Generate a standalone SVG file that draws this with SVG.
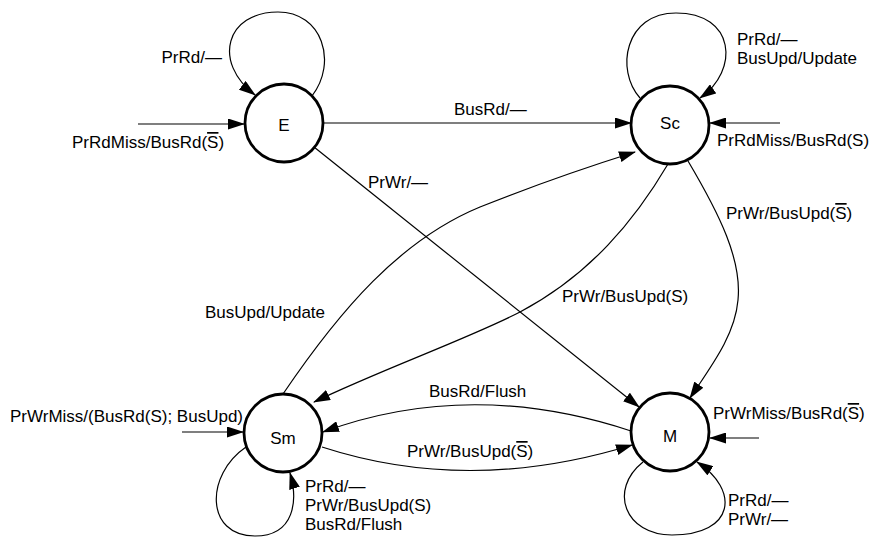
<svg xmlns="http://www.w3.org/2000/svg" width="872" height="544" viewBox="0 0 872 544">
<style>
text{font-family:"Liberation Sans",Arial,sans-serif;font-size:17px;fill:#000}
.node circle{fill:#fff;stroke:#000;stroke-width:2.8}
.node text{text-anchor:middle}
.edge{fill:none;stroke:#000;stroke-width:1.2;marker-end:url(#arr)}
.ov{text-decoration:overline}
</style>
<defs>
<marker id="arr" markerWidth="17" markerHeight="11" refX="16" refY="5.5" orient="auto" markerUnits="userSpaceOnUse">
<path d="M0,0 L17,5.5 L0,11 z" fill="#000"/>
</marker>
</defs>
<rect width="872" height="544" fill="#fff"/>
<g id="connectors">
<path class="edge" d="M312,96 C338,62 322,12 278,12 C226,12 212,62 255,95"/>
<path class="edge" d="M138,124 L244,124"/>
<path class="edge" d="M323,123 L631,123"/>
<path class="edge" d="M640,98 C615,70 625,13 676,13 C735,13 740,70 700,98"/>
<path class="edge" d="M780,123 L710,123"/>
<path class="edge" d="M314,147 L639,407"/>
<path class="edge" d="M668,164 C635,220 590,275 520,312 C470,338 380,370 314,402"/>
<path class="edge" d="M283,394 C340,310 400,240 480,207 C540,183 600,163 635,152"/>
<path class="edge" d="M688,161 C720,215 742,260 738,300 C735,335 712,365 690,398"/>
<path class="edge" d="M631,431 Q470,378 323,432"/>
<path class="edge" d="M322,447 Q470,495 632,445"/>
<path class="edge" d="M182,432 L243,432"/>
<path class="edge" d="M246,447 C205,475 205,536 255,536 C295,536 298,500 290,473"/>
<path class="edge" d="M759,438 L710,438"/>
<path class="edge" d="M643,462 C608,490 625,535 672,535 C735,535 740,490 697,462"/>
</g>
<g id="labels">
<text x="222" y="63" text-anchor="end">PrRd/—</text>
<text x="72" y="148">PrRdMiss/BusRd(<tspan class="ov">S</tspan>)</text>
<text x="454" y="115">BusRd/—</text>
<text x="737" y="45">PrRd/—</text>
<text x="737" y="64">BusUpd/Update</text>
<text x="717" y="146">PrRdMiss/BusRd(S)</text>
<text x="368" y="188">PrWr/—</text>
<text x="726" y="219">PrWr/BusUpd(<tspan class="ov">S</tspan>)</text>
<text x="562" y="302">PrWr/BusUpd(S)</text>
<text x="205" y="318">BusUpd/Update</text>
<text x="429" y="397">BusRd/Flush</text>
<text x="407" y="457">PrWr/BusUpd(<tspan class="ov">S</tspan>)</text>
<text x="10" y="422">PrWrMiss/(BusRd(S); BusUpd)</text>
<text x="713" y="419">PrWrMiss/BusRd(<tspan class="ov">S</tspan>)</text>
<text x="305" y="492">PrRd/—</text>
<text x="305" y="511">PrWr/BusUpd(S)</text>
<text x="305" y="530">BusRd/Flush</text>
<text x="728" y="506">PrRd/—</text>
<text x="728" y="525">PrWr/—</text>
</g>
<g id="node-E" class="node"><circle cx="284" cy="123" r="39"/><text x="284" y="131">E</text></g>
<g id="node-Sc" class="node"><circle cx="670" cy="125" r="39"/><text x="670" y="129">Sc</text></g>
<g id="node-Sm" class="node"><circle cx="283" cy="433" r="39"/><text x="283" y="444">Sm</text></g>
<g id="node-M" class="node"><circle cx="670" cy="432" r="39"/><text x="670" y="442">M</text></g>
</svg>
